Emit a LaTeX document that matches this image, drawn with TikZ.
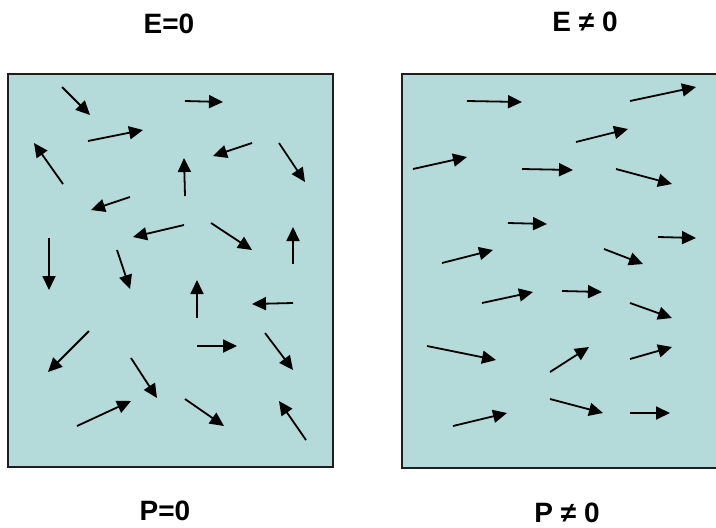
\documentclass[tikz,border=0pt]{standalone}
\usepackage{fontspec}
\setmainfont{Liberation Sans}
\usetikzlibrary{arrows.meta,shadows}
\definecolor{panelfill}{RGB}{180,218,218}
\definecolor{panelline}{RGB}{30,30,30}
\tikzset{
  panel/.style={rectangle, draw=panelline, line width=1.6pt, fill=panelfill,
                inner sep=0pt,
                drop shadow={shadow xshift=0.8pt,shadow yshift=-1.4pt,opacity=0.35,fill=gray}},
  dipole/.style={-{Triangle[length=14pt,width=13pt]}, line width=1.8pt, color=black},
  caption/.style={font=\fontsize{28}{30}\selectfont\bfseries, inner sep=0pt},
}

\begin{document}
\begin{tikzpicture}[x=1pt,y=-1pt]
  \useasboundingbox (0,0) rectangle (716,528);
  \clip (0,0) rectangle (716,528);
  % the two samples
  \node[panel, minimum width=325pt, minimum height=393pt] (free) at (170.5,270.5) {};
  \node[panel, minimum width=332pt, minimum height=394pt] (field) at (568,271) {};
  \node[caption] (efree) at (169,24) {E=0};
  \node[caption] (efield) at (585,22) {E ≠ 0};
  \node[caption] (pfree) at (165,511) {P=0};
  \node[caption] (pfield) at (567,513) {P ≠ 0};
  % random dipoles
  \foreach \xa/\ya/\xb/\yb [count=\i] in {62/87/90/115, 185/101/223/102, 88/141/143/130,
      63/184/34/143, 185/196/184/158, 252/143/213/156, 279/143/305/182, 130/197/91/210,
      184/225/133/237, 211/223/252/250, 293/264/293/227, 49/238/49/290, 117/250/130/289,
      197/318/197/280, 293/303/252/304, 89/331/48/372, 197/346/237/346, 265/333/293/370,
      131/358/157/398, 77/426/131/401, 185/399/224/426, 306/440/279/401} {
    \coordinate (fa\i) at (\xa,\ya);
    \coordinate (fb\i) at (\xb,\yb);
    \draw[dipole] (fa\i) -- (fb\i);
  }
  % aligned dipoles
  \foreach \xa/\ya/\xb/\yb [count=\i] in {467/101/522/102, 630/101/696/87, 576/142/628/129,
      413/169/467/157, 522/169/573/170, 616/169/672/184, 508/223/547/224, 658/237/696/238,
      442/263/493/250, 604/249/643/264, 482/303/533/292, 562/291/602/292, 630/303/672/318,
      427/346/496/360, 550/372/589/347, 630/359/672/347, 453/426/507/413, 550/399/603/413,
      630/413/670/413} {
    \coordinate (ea\i) at (\xa,\ya);
    \coordinate (eb\i) at (\xb,\yb);
    \draw[dipole] (ea\i) -- (eb\i);
  }
\end{tikzpicture}
\end{document}
